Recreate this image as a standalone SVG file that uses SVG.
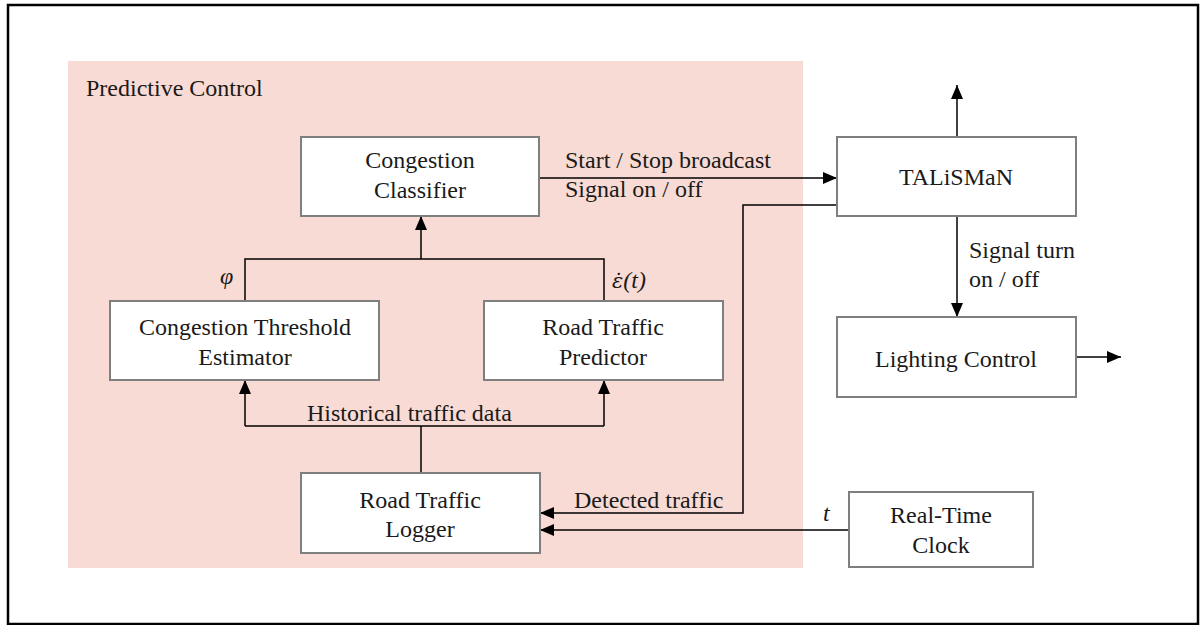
<svg xmlns="http://www.w3.org/2000/svg" width="1202" height="625" viewBox="0 0 1202 625">
<defs>
<marker id="arr" markerUnits="userSpaceOnUse" markerWidth="14" markerHeight="12" refX="14" refY="6" orient="auto">
<path d="M0,0 L14,6 L0,12 z" fill="#000"/>
</marker>
<style>
.box{fill:#fff;stroke:#7f7f7f;stroke-width:2}
.t{font-family:"Liberation Serif","Times New Roman",serif;font-size:24px;fill:#1a1a1a}
.c{text-anchor:middle}
.i{font-style:italic}
.ln{fill:none;stroke:#000;stroke-width:1.5}
</style>
</defs>
<rect x="0" y="0" width="1202" height="625" fill="#fff"/>
<rect x="8" y="5" width="1190" height="619" fill="none" stroke="#000" stroke-width="2.5"/>
<g id="predictive-control">
<rect x="68" y="61" width="735" height="507" fill="#f8dbd4"/>
<text class="t" x="86" y="96">Predictive Control</text>
</g>
<g id="connectors">
<path class="ln" d="M539,178 H837" marker-end="url(#arr)"/>
<path class="ln" d="M957,137 V85" marker-end="url(#arr)"/>
<path class="ln" d="M957,216 V317" marker-end="url(#arr)"/>
<path class="ln" d="M1076,357 H1121" marker-end="url(#arr)"/>
<path class="ln" d="M837,205 H743 V513 H540" marker-end="url(#arr)"/>
<path class="ln" d="M849,530 H540" marker-end="url(#arr)"/>
<path class="ln" d="M421,259 V216" marker-end="url(#arr)"/>
<path class="ln" d="M245,301 V259 H604 V301"/>
<path class="ln" d="M421,473 V426"/>
<path class="ln" d="M245,426 H604"/>
<path class="ln" d="M245,426 V380" marker-end="url(#arr)"/>
<path class="ln" d="M604,426 V380" marker-end="url(#arr)"/>
<text class="t" x="565" y="168">Start / Stop broadcast</text>
<text class="t" x="565" y="197">Signal on / off</text>
<text class="t" x="969" y="258">Signal turn</text>
<text class="t" x="969" y="287">on / off</text>
<text class="t i" x="220" y="284">φ</text>
<text class="t i" x="612" y="288"><tspan style="font-family:'DejaVu Serif',serif;font-size:21px">ε̇</tspan>(t)</text>
<text class="t" x="307" y="421">Historical traffic data</text>
<text class="t" x="574" y="508">Detected traffic</text>
<text class="t i" x="823" y="521">t</text>
</g>
<g id="congestion-classifier">
<rect class="box" x="301" y="137" width="238" height="79"/>
<text class="t c" x="420" y="168">Congestion</text>
<text class="t c" x="420" y="198">Classifier</text>
</g>
<g id="talisman">
<rect class="box" x="837" y="137" width="239" height="79"/>
<text class="t c" x="956" y="185">TALiSMaN</text>
</g>
<g id="lighting-control">
<rect class="box" x="837" y="317" width="239" height="80"/>
<text class="t c" x="956" y="367">Lighting Control</text>
</g>
<g id="threshold-estimator">
<rect class="box" x="110" y="301" width="269" height="79"/>
<text class="t c" x="245" y="335">Congestion Threshold</text>
<text class="t c" x="245" y="365">Estimator</text>
</g>
<g id="traffic-predictor">
<rect class="box" x="484" y="301" width="239" height="79"/>
<text class="t c" x="603" y="335">Road Traffic</text>
<text class="t c" x="603" y="365">Predictor</text>
</g>
<g id="traffic-logger">
<rect class="box" x="301" y="473" width="239" height="80"/>
<text class="t c" x="420" y="508">Road Traffic</text>
<text class="t c" x="420" y="537">Logger</text>
</g>
<g id="real-time-clock">
<rect class="box" x="849" y="492" width="184" height="75"/>
<text class="t c" x="941" y="523">Real-Time</text>
<text class="t c" x="941" y="553">Clock</text>
</g>
</svg>
